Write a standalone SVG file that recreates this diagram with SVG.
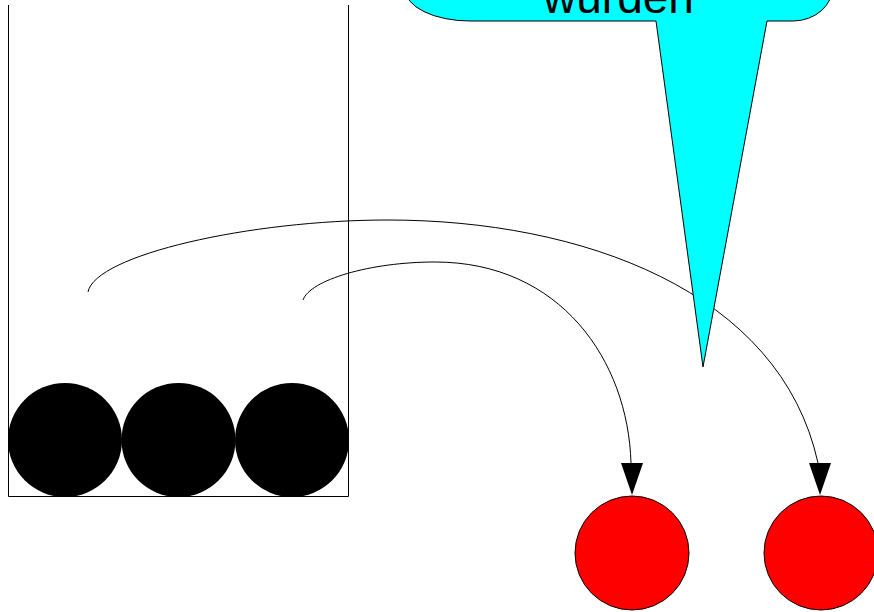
<svg xmlns="http://www.w3.org/2000/svg" width="874" height="612" viewBox="0 0 874 612">
<style>
.ln{fill:none;stroke:#000;stroke-width:1}
.ball{fill:#000}
.red{fill:#ff0000;stroke:#000;stroke-width:1}
.head{fill:#000}
.txt{font-family:"Liberation Sans",Arial,sans-serif;font-size:46px;fill:#000}
</style>
<rect width="874" height="612" fill="#fff"/>
<g id="container">
<path class="ln" d="M8.5,5 L8.5,496.5 L348.5,496.5 L348.5,5"/>
</g>
<g id="ball1"><circle class="ball" cx="65" cy="440" r="57"/></g>
<g id="ball2"><circle class="ball" cx="178.5" cy="440" r="57"/></g>
<g id="ball3"><circle class="ball" cx="292" cy="440" r="57"/></g>
<g id="connectors">
<path class="ln" d="M88,292 C95,255 250,220 388,220 C580,220 780,290 818,463"/>
<polygon class="head" points="809,463 831,463 820,495"/>
<path class="ln" d="M303,300 C310,280 370,262 435,262 C560,262 628,360 631,463"/>
<polygon class="head" points="621,463 643,463 632,495"/>
</g>
<g id="callout">
<path d="M405,-60 L405,-11 A65,32 0 0 0 470,21 L656,21 L703,367 L767,21 L793,21 A40,35 0 0 0 833,-14 L833,-60 Z" fill="#00ffff" stroke="#000" stroke-width="1"/>
<text class="txt" x="618.5" y="13" text-anchor="middle">wurden</text>
</g>
<g id="red1"><circle class="red" cx="632" cy="553" r="57"/></g>
<g id="red2"><circle class="red" cx="821" cy="553" r="57"/></g>
</svg>
